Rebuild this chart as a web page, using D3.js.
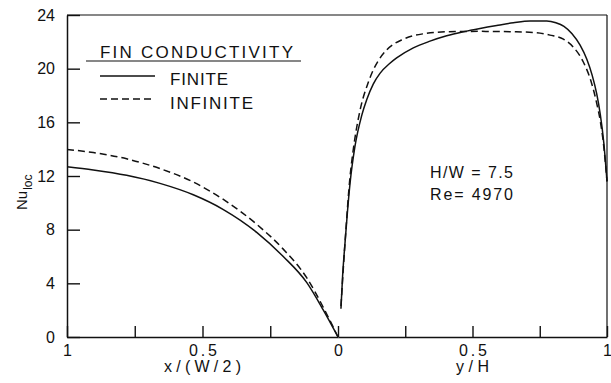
<!DOCTYPE html>
<html>
<head>
<meta charset="utf-8">
<script src="https://cdn.jsdelivr.net/npm/d3@7"></script>
<style>
  body { margin: 0; background: #fff; }
  svg { display: block; }
  text { font-family: "Liberation Sans", Arial, sans-serif; fill: #111; }
</style>
</head>
<body>
<svg id="chart" width="611" height="383"></svg>
<script>
// Local Nusselt number across the fin base (left, x/(W/2)) and up the fin (right, y/H)
const yTicks = [0, 4, 8, 12, 16, 20, 24];
const xLeftTicks = [1, 0.75, 0.5, 0.25, 0];
const xLeftLabels = ["1", "", "0.5", "", "0"];
const xRightTicks = [0.25, 0.5, 0.75, 1];
const xRightLabels = ["", "0.5", "", "1"];

// Base wall, x/(W/2) running from 1 down to 0
const baseX = [1, 0.903, 0.78, 0.657, 0.534, 0.423, 0.3, 0.202, 0.115, 0.054, 0];
const baseFinite = [12.69, 12.45, 12.05, 11.45, 10.6, 9.5, 7.8, 6.0, 4.05, 2.0, 0];
const baseInfinite = [13.98, 13.75, 13.28, 12.55, 11.55, 10.25, 8.4, 6.55, 4.4, 2.2, 0];

// Fin surface, y/H from 0 to 1
const finFiniteY = [0.011, 0.017, 0.026, 0.035, 0.045, 0.063, 0.088, 0.107, 0.131, 0.156, 0.193, 0.218, 0.28, 0.342, 0.404, 0.466, 0.528, 0.59, 0.652, 0.714, 0.776, 0.81, 0.84, 0.87, 0.9, 0.925, 0.945, 0.962, 0.975, 0.988, 1.0];
const finFinite = [2.1, 4.5, 7.0, 9.3, 11.5, 14.2, 16.5, 17.7, 18.85, 19.65, 20.4, 20.8, 21.55, 22.05, 22.45, 22.75, 23.0, 23.22, 23.42, 23.55, 23.55, 23.42, 23.15, 22.6, 21.75, 20.7, 19.5, 18.1, 16.6, 14.5, 11.6];
const finInfiniteY = [0.011, 0.026, 0.045, 0.057, 0.082, 0.113, 0.131, 0.15, 0.181, 0.243, 0.317, 0.404, 0.528, 0.652, 0.739, 0.788, 0.838, 0.875, 0.912, 0.943, 0.962, 0.975, 0.988, 1.0];
const finInfinite = [2.3, 7.0, 12.0, 14.0, 16.9, 19.0, 19.9, 20.6, 21.4, 22.2, 22.6, 22.75, 22.78, 22.75, 22.68, 22.5, 22.2, 21.6, 20.5, 18.9, 17.4, 16.1, 14.2, 11.6];

const legendTitle = "FIN CONDUCTIVITY";
const legendNames = ["FINITE", "INFINITE"];
const notes = ["H/W = 7.5", "Re= 4970"];

const svg = d3.select("#chart");
const ink = "#111";
const plotLeft = 67, plotMid = 338, plotRight = 607, plotTop = 15, plotBottom = 337;

const y = d3.scaleLinear().domain([0, 24]).range([plotBottom, plotTop]);
const xBase = d3.scaleLinear().domain([1, 0]).range([plotLeft, plotMid]);
const xFin = d3.scaleLinear().domain([0, 1]).range([plotMid, plotRight]);

// Frame: top and right edges
svg.append("line").attr("x1", plotLeft).attr("x2", plotRight).attr("y1", plotTop).attr("y2", plotTop)
  .attr("stroke", ink).attr("stroke-width", 1.2);
svg.append("line").attr("x1", plotRight).attr("x2", plotRight).attr("y1", plotTop).attr("y2", plotBottom)
  .attr("stroke", ink).attr("stroke-width", 1.2);

function styleAxis(g) {
  g.select(".domain").attr("stroke", ink).attr("stroke-width", 1.5);
  g.selectAll(".tick line").attr("stroke", ink).attr("stroke-width", 1.4);
  g.selectAll(".tick text").attr("fill", ink).style("font-size", "16px")
    .style("font-family", "'Liberation Sans', Arial, sans-serif");
  // decimal labels are set with the wide spacing of the lettering
  g.selectAll(".tick text").filter(function () { return this.textContent === "0.5"; })
    .attr("textLength", 28).attr("lengthAdjust", "spacing");
}

// Left axis with inward ticks
svg.append("g").attr("transform", `translate(${plotLeft},0)`)
  .call(d3.axisLeft(y).tickValues(yTicks).tickSize(-13).tickPadding(12).tickSizeOuter(0))
  .call(styleAxis);

// Bottom axes for the two halves
svg.append("g").attr("transform", `translate(0,${plotBottom})`)
  .call(d3.axisBottom(xBase).tickValues(xLeftTicks).tickSize(-11).tickPadding(8).tickSizeOuter(0)
    .tickFormat((d, i) => xLeftLabels[i]))
  .call(styleAxis);
svg.append("g").attr("transform", `translate(0,${plotBottom})`)
  .call(d3.axisBottom(xFin).tickValues(xRightTicks).tickSize(-11).tickPadding(8).tickSizeOuter(0)
    .tickFormat((d, i) => xRightLabels[i]))
  .call(styleAxis);

// Axis titles
svg.append("text").attr("x", xBase(0.5)).attr("y", 372).attr("text-anchor", "middle")
  .attr("textLength", 77).attr("lengthAdjust", "spacing")
  .style("font-size", "16px").text("x/(W/2)");
svg.append("text").attr("x", xFin(0.5)).attr("y", 372).attr("text-anchor", "middle")
  .attr("textLength", 33).attr("lengthAdjust", "spacing")
  .style("font-size", "16px").text("y/H");

const yTitle = svg.append("text").attr("transform", "translate(27,210) rotate(-90)");
yTitle.append("tspan").style("font-size", "15px").text("Nu");
yTitle.append("tspan").attr("dy", 5).attr("dx", 1).style("font-size", "12px").text("loc");

// Curves
function draw(xs, vs, xScale, dashed) {
  const pts = xs.map((d, i) => [xScale(d), y(vs[i])]);
  svg.append("path")
    .attr("d", d3.line().curve(d3.curveMonotoneX)(pts))
    .attr("fill", "none").attr("stroke", ink).attr("stroke-width", 1.5)
    .attr("stroke-dasharray", dashed ? "7,4" : null);
}
draw(baseX, baseFinite, xBase, false);
draw(baseX, baseInfinite, xBase, true);
draw(finFiniteY, finFinite, xFin, false);
draw(finInfiniteY, finInfinite, xFin, true);

// Legend
svg.append("text").attr("x", 100).attr("y", 58).attr("textLength", 193)
  .attr("lengthAdjust", "spacing").style("font-size", "17px").text(legendTitle);
svg.append("line").attr("x1", 86).attr("x2", 301).attr("y1", 61).attr("y2", 61)
  .attr("stroke", ink).attr("stroke-width", 1.2);
const legendRows = [
  { name: legendNames[0], yLine: 76, yText: 85, len: 58, dash: null },
  { name: legendNames[1], yLine: 99, yText: 109, len: 83, dash: "7,4" }
];
legendRows.forEach(r => {
  svg.append("line").attr("x1", 100).attr("x2", 155).attr("y1", r.yLine).attr("y2", r.yLine)
    .attr("stroke", ink).attr("stroke-width", 1.5).attr("stroke-dasharray", r.dash);
  svg.append("text").attr("x", 170).attr("y", r.yText).attr("textLength", r.len)
    .attr("lengthAdjust", "spacing").style("font-size", "17px").text(r.name);
});

// Parameter notes
svg.append("text").attr("x", 430).attr("y", 178).attr("textLength", 83)
  .attr("lengthAdjust", "spacing").style("font-size", "16px").text(notes[0]);
svg.append("text").attr("x", 430).attr("y", 200).attr("textLength", 83)
  .attr("lengthAdjust", "spacing").style("font-size", "16px").text(notes[1]);
</script>
</body>
</html>
